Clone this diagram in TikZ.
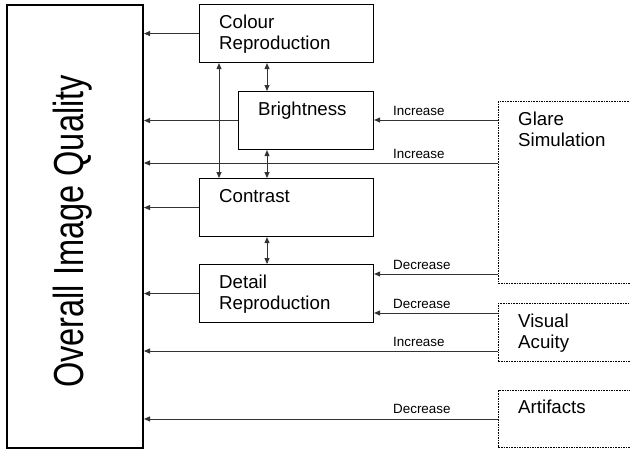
\documentclass[tikz,border=0pt]{standalone}
\usepackage{fontspec}
\setmainfont{Liberation Sans}
\usetikzlibrary{arrows.meta}
\begin{document}
\begin{tikzpicture}[x=1pt,y=-1pt,
  solidbox/.style={draw, line width=1.1pt, anchor=north west, inner sep=0pt},
  dashbox/.style={draw, line width=0.9pt, dash pattern=on 1.6pt off 1pt, anchor=north west, inner sep=0pt},
  boxtext/.style={anchor=base west, inner sep=0pt, align=left, font=\fontsize{18.7}{20.5}\selectfont},
  lbl/.style={anchor=base west, inner sep=0pt, font=\fontsize{13.4}{14}\selectfont},
  arr/.style={draw=black!80, line width=0.9pt, -{Triangle[length=6pt,width=5pt]}},
  dbl/.style={draw=black!80, line width=0.9pt, {Triangle[length=6pt,width=5pt]}-{Triangle[length=6pt,width=5pt]}}
]
\useasboundingbox (0,0) rectangle (630,448);

% main box
\node[draw, line width=2pt, anchor=north west, inner sep=0pt, minimum width=136pt, minimum height=443pt] (oiq) at (6,4) {};
\node[rotate=90, anchor=base, inner sep=0pt] (oiqt) at (83,231.5) {\scalebox{0.775}[1]{\fontsize{42}{42}\selectfont Overall Image Quality}};

% middle boxes
\node[solidbox, minimum width=174pt, minimum height=58pt] (colour) at (199,4) {};
\node[solidbox, minimum width=135pt, minimum height=58pt] (bright) at (238,91) {};
\node[solidbox, minimum width=174pt, minimum height=58pt] (contrast) at (199,178) {};
\node[solidbox, minimum width=174pt, minimum height=58pt] (detail) at (199,264) {};

% multi-line texts are anchored on the baseline of their last line
\node[boxtext] (colourt) at (219,49) {Colour\\Reproduction};
\node[boxtext] (brightt) at (258,115) {Brightness};
\node[boxtext] (contrastt) at (219,202) {Contrast};
\node[boxtext] (detailt) at (219,309) {Detail\\Reproduction};

% right dashed boxes
\node[dashbox, minimum width=160pt, minimum height=182pt] (glare) at (498,101) {};
\node[dashbox, minimum width=160pt, minimum height=58pt] (visual) at (498,303) {};
\node[dashbox, minimum width=160pt, minimum height=57pt] (artif) at (498,390) {};

\node[boxtext] (glaret) at (518,146) {Glare\\Simulation};
\node[boxtext] (visualt) at (518,348) {Visual\\Acuity};
\node[boxtext] (artift) at (518,413) {Artifacts};

% arrows into main box
\draw[arr] (colour.west) -- (oiq.east |- colour.west);
\draw[arr] (bright.west) -- (oiq.east |- bright.west);
\draw[arr] (contrast.west) -- (oiq.east |- contrast.west);
\draw[arr] (detail.west) -- (oiq.east |- detail.west);

\coordinate (g1) at (498,120);
\coordinate (g2) at (498,163);
\coordinate (g3) at (498,274);
\coordinate (v1) at (498,313);
\coordinate (v2) at (498,351);

\draw[arr] (glare.west |- g1) -- (bright.east |- g1);
\draw[arr] (glare.west |- g2) -- (oiq.east |- g2);
\draw[arr] (glare.west |- g3) -- (detail.east |- g3);
\draw[arr] (visual.west |- v1) -- (detail.east |- v1);
\draw[arr] (visual.west |- v2) -- (oiq.east |- v2);
\draw[arr] (artif.west) -- (oiq.east |- artif.west);

\node[lbl] (l1) at (393,115) {Increase};
\node[lbl] (l2) at (393,158) {Increase};
\node[lbl] (l3) at (393,269) {Decrease};
\node[lbl] (l4) at (393,308) {Decrease};
\node[lbl] (l5) at (393,346) {Increase};
\node[lbl] (l6) at (393,413) {Decrease};

% vertical double arrows
\draw[dbl] ([xshift=20pt]colour.south west) -- ([xshift=20pt]contrast.north west);
\draw[dbl] ([xshift=68pt]colour.south west) -- ([xshift=29pt]bright.north west);
\draw[dbl] ([xshift=29pt]bright.south west) -- ([xshift=68pt]contrast.north west);
\draw[dbl] ([xshift=68pt]contrast.south west) -- ([xshift=68pt]detail.north west);
\end{tikzpicture}
\end{document}
